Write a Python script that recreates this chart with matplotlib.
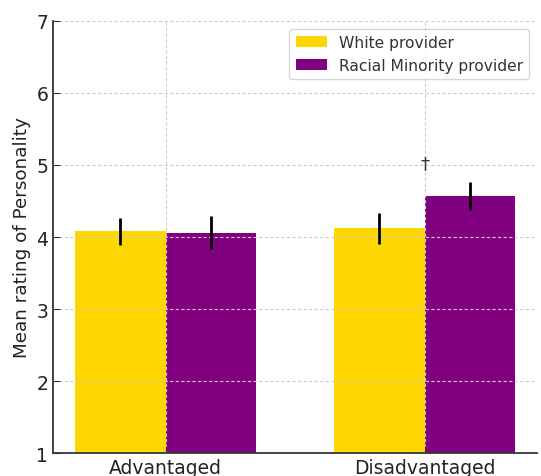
import matplotlib
matplotlib.use("Agg")
import matplotlib.pyplot as plt
import numpy as np

plt.rcParams["font.family"] = ["DejaVu Sans"]

categories = ["Advantaged", "Disadvantaged"]
white_means = [4.08, 4.12]
white_err = [0.19, 0.22]
minority_means = [4.06, 4.57]
minority_err = [0.23, 0.19]
series_labels = ["White provider", "Racial Minority provider"]

fig = plt.figure(figsize=(5.41, 4.77), dpi=100)
ax = fig.add_axes([0.098, 0.048, 0.895, 0.906])

x = np.arange(len(categories))
w = 0.35
base = 1
ekw = dict(ecolor="black", elinewidth=2, capsize=0, zorder=5)
ax.bar(x - w/2, np.array(white_means) - base, w, bottom=base, color="#FFD700",
       label=series_labels[0], yerr=white_err, error_kw=ekw, zorder=1)
ax.bar(x + w/2, np.array(minority_means) - base, w, bottom=base, color="#800080",
       label=series_labels[1], yerr=minority_err, error_kw=ekw, zorder=1)

ax.text(x[1], 4.9, "†", ha="center", va="bottom", fontsize=13, color="#333333")

ax.set_ylim(1, 7)
ax.set_xticks(x)
ax.set_xticklabels(categories, fontsize=13.5, color="#222222")
ax.tick_params(axis="y", labelsize=13.5, labelcolor="#222222")
ax.tick_params(direction="in", color="#333333", length=5)
ax.set_ylabel("Mean rating of Personality", fontsize=13.2, color="#222222")
ax.grid(True, linestyle=(0, (3, 2)), color="#cccccc", linewidth=0.8, zorder=3)
ax.set_axisbelow(False)
for s in ["top", "right"]:
    ax.spines[s].set_visible(False)
for s in ["left", "bottom"]:
    ax.spines[s].set_color("#333333")
    ax.spines[s].set_linewidth(1.3)

leg = ax.legend(loc="upper right", fontsize=11.2, frameon=True, fancybox=True,
                framealpha=0.8, edgecolor="#cccccc")
leg.set_zorder(10)
for t in leg.get_texts():
    t.set_color("#333333")

fig.savefig("out.png", dpi=100)
